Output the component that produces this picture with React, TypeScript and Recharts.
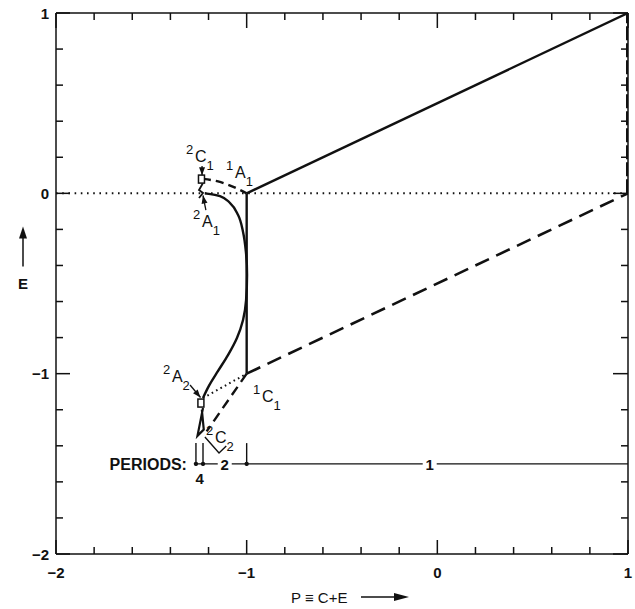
import React from 'react';
import { ComposedChart, Line, XAxis, YAxis, Scatter } from 'recharts';

const FONT = "'Liberation Sans', Arial, Helvetica, sans-serif";
const INK = '#111';

// axis ticks (every 0.2, integers labelled)
const xTicks = [-2, -1.8, -1.6, -1.4, -1.2, -1, -0.8, -0.6, -0.4, -0.2, 0, 0.2, 0.4, 0.6, 0.8, 1];
const yTicks = [-2, -1.8, -1.6, -1.4, -1.2, -1, -0.8, -0.6, -0.4, -0.2, 0, 0.2, 0.4, 0.6, 0.8, 1];

// main lines
const upperSolid = [{ x: -1, y: 0 }, { x: 1, y: 1 }];
const lowerDashed = [{ x: -1, y: -1 }, { x: 1, y: 0 }];
const zeroDotted = [{ x: -2, y: 0 }, { x: 1, y: 0 }];
const rightEdgeDashed = [{ x: 1, y: 0 }, { x: 1, y: 1 }];
const verticalSolid = [{ x: -1, y: 0 }, { x: -1, y: -1 }];

// period-2 arc
const bigCurve = [
  { x: -1.219, y: 0.0 }, { x: -1.14, y: -0.015 }, { x: -1.087, y: -0.054 },
  { x: -1.045, y: -0.12 }, { x: -1.019, y: -0.214 }, { x: -1.004, y: -0.325 },
  { x: -0.998, y: -0.453 }, { x: -1.003, y: -0.592 }, { x: -1.019, y: -0.702 },
  { x: -1.051, y: -0.802 }, { x: -1.098, y: -0.897 }, { x: -1.15, y: -0.985 },
  { x: -1.198, y: -1.068 }, { x: -1.229, y: -1.135 },
];
const topDashedCurve = [{ x: -1.229, y: 0.08 }, { x: -1.15, y: 0.066 }, { x: -1.07, y: 0.036 }, { x: -1.0, y: 0.0 }];
const dottedLink = [{ x: -1.229, y: -1.135 }, { x: -1.0, y: -1.0 }];
const lowerDashedLink = [{ x: -1.0, y: -1.0 }, { x: -1.21, y: -1.32 }];
const period4Zigzag = [{ x: -1.229, y: 0.057 }, { x: -1.25, y: 0.018 }, { x: -1.229, y: 0.002 }, { x: -1.25, y: -0.026 }];
const period4Wedge = [{ x: -1.229, y: -1.19 }, { x: -1.258, y: -1.345 }, { x: -1.225, y: -1.31 }, { x: -1.235, y: -1.2 }];
const c2Pointer = [{ x: -1.219, y: -1.351 }, { x: -1.145, y: -1.44 }, { x: -1.107, y: -1.401 }];

// pointer arrows (tail -> tip)
const arrowC1 = [{ x: -1.234, y: 0.152 }, { x: -1.234, y: 0.1 }];
const arrowA1 = [{ x: -1.214, y: -0.093 }, { x: -1.229, y: -0.012 }];
const arrowA2 = [{ x: -1.297, y: -1.063 }, { x: -1.242, y: -1.132 }];
const arrowTips = [
  { x: -1.234, y: 0.1, angle: 90 },
  { x: -1.229, y: -0.012, angle: -101 },
  { x: -1.242, y: -1.132, angle: 50 },
];

// small boxes marking period-2 points
const boxes = [{ x: -1.237, y: 0.079 }, { x: -1.24, y: -1.163 }];

// labels of points
const pointLabels = [
  { x: -1.271, y: 0.174, sup: '2', main: 'C', sub: '1' },
  { x: -1.061, y: 0.085, sup: '1', main: 'A', sub: '1' },
  { x: -1.234, y: -0.187, sup: '2', main: 'A', sub: '1' },
  { x: -1.392, y: -1.046, sup: '2', main: 'A', sub: '2' },
  { x: -0.92, y: -1.157, sup: '1', main: 'C', sub: '1' },
  { x: -1.166, y: -1.384, sup: '2', main: 'C', sub: '2' },
];

// periods bar
const periodsY = -1.5;
const periodsLine = [{ x: -1.266, y: periodsY }, { x: 1, y: periodsY }];
const periodTickXs = [-1.266, -1.229, -1.0];
const periodTickTop = -1.385;
const periodTickBottom = -1.51;
const periodLabels = [
  { x: -1.266, y: periodsY, text: 'PERIODS:', kind: 'title' },
  { x: -1.247, y: periodsY, text: '4', kind: 'below' },
  { x: -1.115, y: periodsY, text: '2', kind: 'on' },
  { x: -0.04, y: periodsY, text: '1', kind: 'on' },
];

const isMajor = (v: number) => Math.abs(v - Math.round(v)) < 1e-6;
const fmt = (v: number) => (v < 0 ? '\u2212' + Math.abs(Math.round(v)) : String(Math.round(v)));
const MINOR = 7;
const MAJOR = 14;

const BottomTick = (p: any) => {
  const v = p.payload.value;
  const len = isMajor(v) ? MAJOR : MINOR;
  return (
    <g>
      <line x1={p.x} x2={p.x} y1={p.y} y2={p.y - len} stroke={INK} strokeWidth={1.5} />
      {isMajor(v) && (
        <text x={p.x} y={p.y + 18} textAnchor="middle" dominantBaseline="central" fontFamily={FONT} fontWeight="bold" fontSize={15} fill={INK}>
          {fmt(v)}
        </text>
      )}
    </g>
  );
};
const TopTick = (p: any) => {
  const v = p.payload.value;
  const len = isMajor(v) ? MAJOR + 1 : MINOR;
  return <line x1={p.x} x2={p.x} y1={p.y} y2={p.y + len} stroke={INK} strokeWidth={1.5} />;
};
const LeftTick = (p: any) => {
  const v = p.payload.value;
  const len = isMajor(v) ? MAJOR : MINOR;
  return (
    <g>
      <line x1={p.x} x2={p.x + len} y1={p.y} y2={p.y} stroke={INK} strokeWidth={1.5} />
      {isMajor(v) && (
        <text x={p.x - 7} y={p.y} textAnchor="end" dominantBaseline="central" fontFamily={FONT} fontWeight="bold" fontSize={15} fill={INK}>
          {fmt(v)}
        </text>
      )}
    </g>
  );
};
const RightTick = (p: any) => {
  const v = p.payload.value;
  const len = isMajor(v) ? MAJOR + 1 : MINOR;
  return <line x1={p.x} x2={p.x - len} y1={p.y} y2={p.y} stroke={INK} strokeWidth={1.5} />;
};

const XTitle = (p: any) => {
  const vb = p.viewBox || { x: 56, y: 554, width: 572, height: 30 };
  const x0 = vb.x + 235;
  const y0 = vb.y + 43;
  return (
    <g>
      <text x={x0} y={y0} dominantBaseline="central" fontFamily={FONT} fontSize={15} fill={INK}>
        {'P \u2261 C+E'}
      </text>
      <line x1={x0 + 70} x2={x0 + 108} y1={y0} y2={y0} stroke={INK} strokeWidth={1.5} />
      <polygon points={`${x0 + 118},${y0} ${x0 + 103},${y0 - 4} ${x0 + 103},${y0 + 4}`} fill={INK} />
    </g>
  );
};
const YTitle = (p: any) => {
  const vb = p.viewBox || { x: 8, y: 13, width: 48, height: 541 };
  const cx = vb.x + 15;
  const cy = vb.y + vb.height / 2;
  return (
    <g>
      <line x1={cx} x2={cx} y1={cy - 17} y2={cy - 48} stroke={INK} strokeWidth={1.5} />
      <polygon points={`${cx},${cy - 57} ${cx - 4},${cy - 45} ${cx + 4},${cy - 45}`} fill={INK} />
      <text x={cx} y={cy} textAnchor="middle" dominantBaseline="central" fontFamily={FONT} fontWeight="bold" fontSize={15} fill={INK}>
        E
      </text>
    </g>
  );
};

const PointLabel = (p: any) => {
  const d = p.payload || p;
  const { cx, cy } = p;
  return (
    <text x={cx - 9} y={cy - 8} fontFamily={FONT} fill={INK}>
      <tspan fontSize={13}>{d.sup}</tspan>
      <tspan x={cx} y={cy} fontSize={16}>{d.main}</tspan>
      <tspan dy={8} fontSize={13}>{d.sub}</tspan>
    </text>
  );
};

const ArrowTip = (p: any) => {
  const d = p.payload || p;
  const { cx, cy } = p;
  return (
    <polygon
      points={`0,0 -8,-3 -8,3`}
      transform={`translate(${cx},${cy}) rotate(${d.angle})`}
      fill={INK}
    />
  );
};

const Box = (p: any) => (
  <rect x={p.cx - 3} y={p.cy - 4} width={6} height={8} fill="#fff" stroke={INK} strokeWidth={1.5} />
);

const PeriodMark = (p: any) => <circle cx={p.cx} cy={p.cy} r={2.2} fill={INK} />;

const PeriodLabel = (p: any) => {
  const d = p.payload || p;
  const { cx, cy } = p;
  if (d.kind === 'title') {
    return (
      <text x={cx - 9} y={cy + 1} textAnchor="end" dominantBaseline="central" fontFamily={FONT} fontWeight="bold" fontSize={16} fill={INK}>
        {d.text}
      </text>
    );
  }
  if (d.kind === 'below') {
    return (
      <text x={cx} y={cy + 15} textAnchor="middle" dominantBaseline="central" fontFamily={FONT} fontWeight="bold" fontSize={15} fill={INK}>
        {d.text}
      </text>
    );
  }
  return (
    <g>
      <rect x={cx - 7} y={cy - 8} width={14} height={16} fill="#fff" />
      <text x={cx} y={cy + 1} textAnchor="middle" dominantBaseline="central" fontFamily={FONT} fontWeight="bold" fontSize={15} fill={INK}>
        {d.text}
      </text>
    </g>
  );
};

const lineProps = {
  xAxisId: 'b',
  yAxisId: 'l',
  dataKey: 'y',
  dot: false,
  activeDot: false,
  isAnimationActive: false,
  legendType: 'none' as const,
  stroke: INK,
};

export default function App() {
  const periodTicks = periodTickXs.map((x) => [
    { x, y: periodTickTop },
    { x, y: periodTickBottom },
  ]);
  const periodMarks = periodTickXs.map((x) => ({ x, y: periodsY }));
  return (
    <div style={{ position: 'fixed', left: 0, top: 0, width: 635, height: 609, overflow: 'hidden', background: '#fff' }}>
      <ComposedChart width={635} height={609} margin={{ top: 12, right: 6, left: 8, bottom: 25 }}>
        <XAxis
          xAxisId="b"
          type="number"
          dataKey="x"
          domain={[-2, 1]}
          allowDataOverflow
          ticks={xTicks}
          interval={0}
          tickSize={0}
          tickMargin={0}
          tickLine={false}
          height={30}
          axisLine={{ stroke: INK, strokeWidth: 1.5 }}
          tick={<BottomTick />}
          label={<XTitle />}
        />
        <XAxis
          xAxisId="t"
          orientation="top"
          type="number"
          dataKey="x"
          domain={[-2, 1]}
          allowDataOverflow
          ticks={xTicks}
          interval={0}
          tickSize={0}
          tickMargin={0}
          tickLine={false}
          height={1}
          axisLine={{ stroke: INK, strokeWidth: 1.5 }}
          tick={<TopTick />}
        />
        <YAxis
          yAxisId="l"
          type="number"
          dataKey="y"
          domain={[-2, 1]}
          allowDataOverflow
          ticks={yTicks}
          interval={0}
          tickSize={0}
          tickMargin={0}
          tickLine={false}
          width={48}
          axisLine={{ stroke: INK, strokeWidth: 1.5 }}
          tick={<LeftTick />}
          label={<YTitle />}
        />
        <YAxis
          yAxisId="r"
          orientation="right"
          type="number"
          dataKey="y"
          domain={[-2, 1]}
          allowDataOverflow
          ticks={yTicks}
          interval={0}
          tickSize={0}
          tickMargin={0}
          tickLine={false}
          width={1}
          axisLine={{ stroke: INK, strokeWidth: 1.5 }}
          tick={<RightTick />}
        />

        <Line {...lineProps} data={zeroDotted} type="linear" strokeWidth={2} strokeDasharray="1.6 4.6" />
        <Line {...lineProps} data={upperSolid} type="linear" strokeWidth={2.4} />
        <Line {...lineProps} data={lowerDashed} type="linear" strokeWidth={2.6} strokeDasharray="15 8" />
        <Line {...lineProps} data={rightEdgeDashed} type="linear" strokeWidth={4} strokeDasharray="14 3" />
        <Line {...lineProps} data={verticalSolid} type="linear" strokeWidth={2.4} />
        <Line {...lineProps} data={bigCurve} type="monotoneY" strokeWidth={2.4} />
        <Line {...lineProps} data={topDashedCurve} type="natural" strokeWidth={2.4} strokeDasharray="8 5" />
        <Line {...lineProps} data={dottedLink} type="linear" strokeWidth={2} strokeDasharray="1.6 3.4" />
        <Line {...lineProps} data={lowerDashedLink} type="linear" strokeWidth={2.4} strokeDasharray="10 6" />
        <Line {...lineProps} data={period4Zigzag} type="linear" strokeWidth={1.8} />
        <Line {...lineProps} data={period4Wedge} type="linear" strokeWidth={2.2} />
        <Line {...lineProps} data={c2Pointer} type="linear" strokeWidth={1.4} />
        <Line {...lineProps} data={arrowC1} type="linear" strokeWidth={1.3} />
        <Line {...lineProps} data={arrowA1} type="linear" strokeWidth={1.3} />
        <Line {...lineProps} data={arrowA2} type="linear" strokeWidth={1.3} />

        <Line {...lineProps} data={periodsLine} type="linear" strokeWidth={1.4} />
        {periodTicks.map((seg, i) => (
          <Line key={'pt' + i} {...lineProps} data={seg} type="linear" strokeWidth={1.4} />
        ))}

        <Scatter xAxisId="b" yAxisId="l" data={periodMarks} shape={<PeriodMark />} isAnimationActive={false} legendType="none" />
        <Scatter xAxisId="b" yAxisId="l" data={periodLabels} shape={<PeriodLabel />} isAnimationActive={false} legendType="none" />
        <Scatter xAxisId="b" yAxisId="l" data={boxes} shape={<Box />} isAnimationActive={false} legendType="none" />
        <Scatter xAxisId="b" yAxisId="l" data={arrowTips} shape={<ArrowTip />} isAnimationActive={false} legendType="none" />
        <Scatter xAxisId="b" yAxisId="l" data={pointLabels} shape={<PointLabel />} isAnimationActive={false} legendType="none" />
      </ComposedChart>
    </div>
  );
}
